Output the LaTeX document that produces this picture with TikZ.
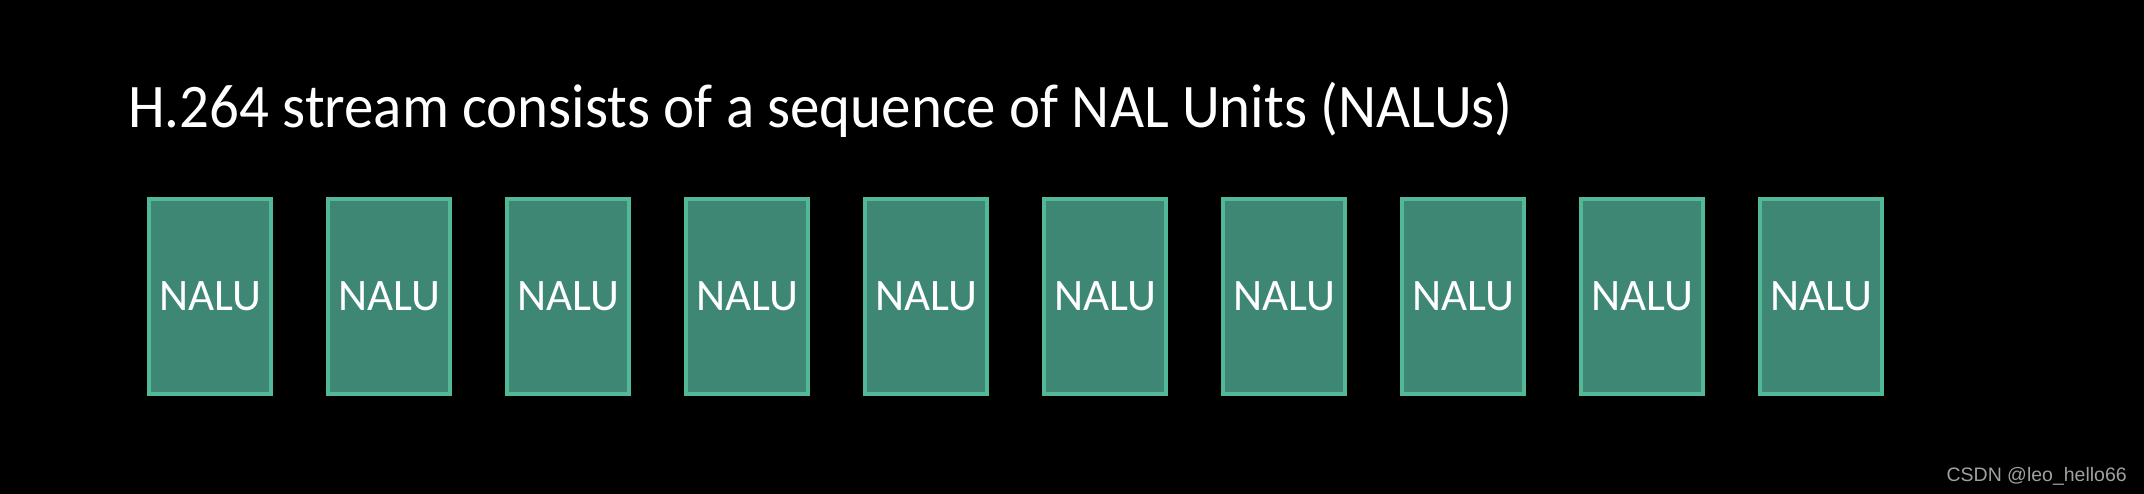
\documentclass[tikz,border=0pt]{standalone}
\usepackage{fontspec}
\setmainfont{Carlito}
\newfontfamily\wmfont{Liberation Sans}
\definecolor{nalufill}{HTML}{3E8775}
\definecolor{naluborder}{HTML}{52B898}
\definecolor{wmgray}{HTML}{A0A0A0}
\tikzset{
  nalubox/.style={draw=naluborder, fill=nalufill, line width=4pt,
    minimum width=122pt, minimum height=195pt, inner sep=0pt,
    text=white, font=\fontsize{45}{50}\selectfont},
}
\begin{document}
\begin{tikzpicture}[x=1pt,y=-1pt]
\fill[black] (0,0) rectangle (2144,494);
\useasboundingbox (0,0) rectangle (2144,494);
\node[anchor=base west, inner sep=0pt, text=white, font=\fontsize{62}{70}\selectfont] (title) at (128,128) {\scalebox{0.95}[1]{H.264 stream consists of a sequence of NAL Units (NALUs)}};
\foreach \i in {0,...,9} {
  \node[nalubox] (n\i) at ({210+179*\i},296.5) {NALU};
}
\node[anchor=base east, inner sep=0pt, text=wmgray, font=\wmfont\fontsize{19.5}{22}\selectfont] (wm) at (2127,481) {CSDN @leo\_hello66};
\end{tikzpicture}
\end{document}
